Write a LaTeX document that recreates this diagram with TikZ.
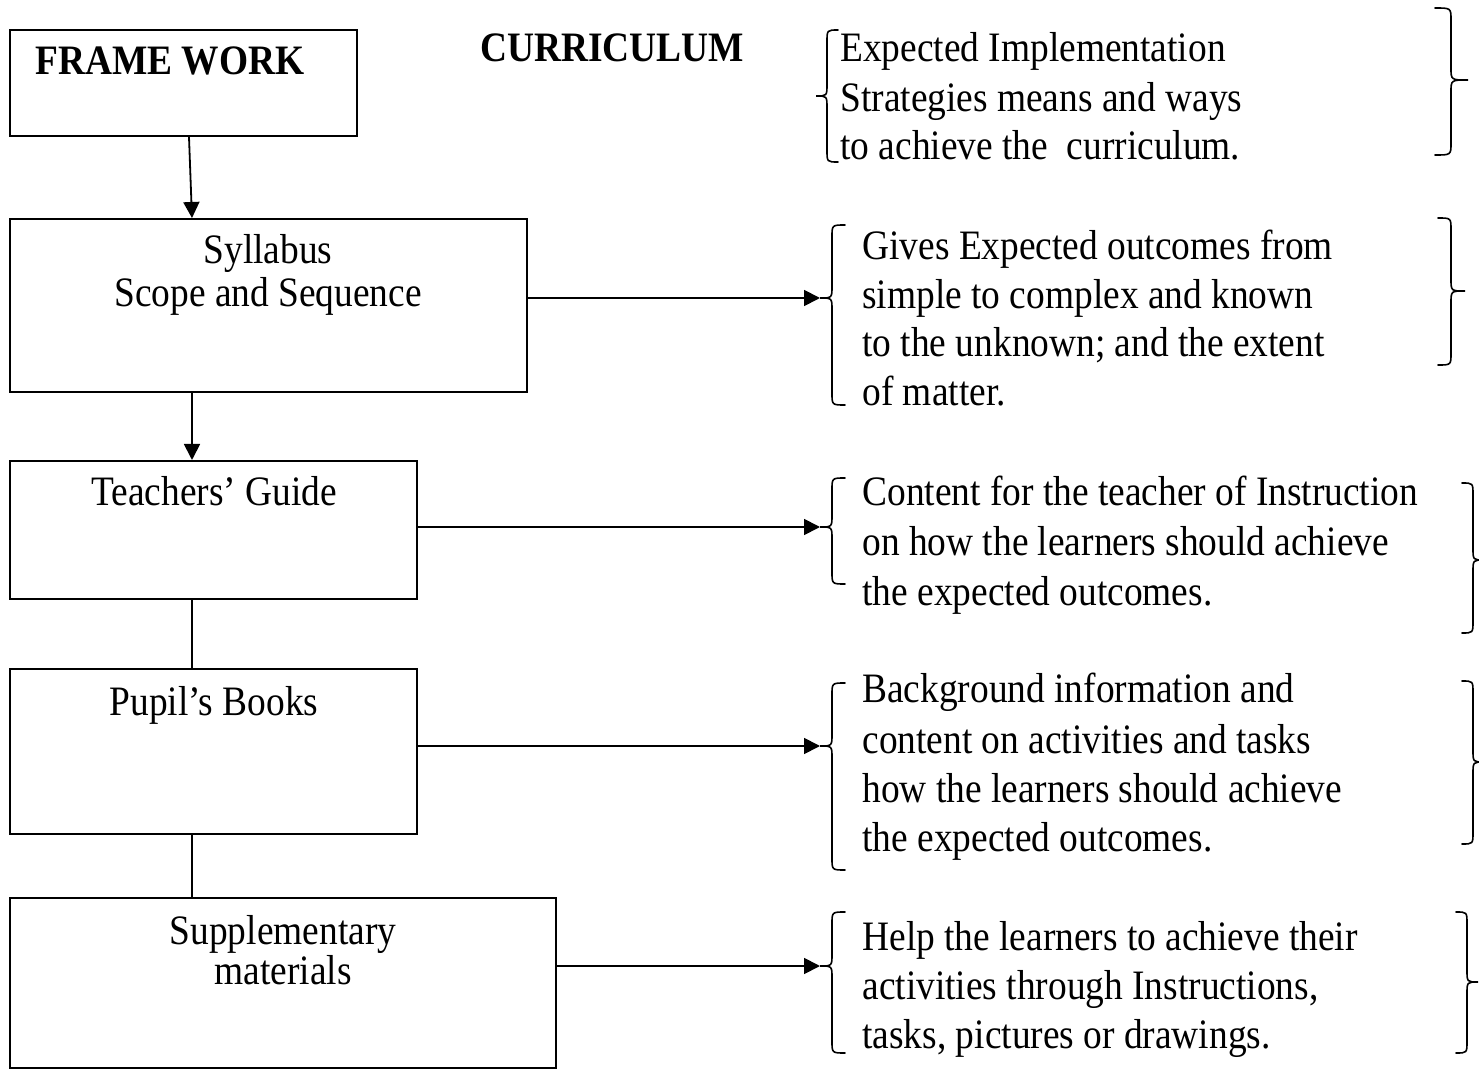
\documentclass[tikz,border=0pt]{standalone}
\usepackage{fontspec}
\setmainfont{Liberation Serif}
\usetikzlibrary{arrows.meta,fit,calc}
\newcommand\LBrc[6]{% tip x, vertical x, curl x, top y, tip y, bottom y
  \draw[brc] (#3,#4) .. controls (#2,#4) .. (#2,#4+12) -- (#2,#5-12) .. controls (#2,#5) .. (#1,#5)
    .. controls (#2,#5) .. (#2,#5+12) -- (#2,#6-12) .. controls (#2,#6) .. (#3,#6);}
\newcommand\Tx[1]{\scalebox{1}[1.12]{#1}}
\begin{document}
\begin{tikzpicture}[x=0.5pt,y=-0.5pt,
  box/.style={draw, line width=1pt, inner sep=0pt},
  txt/.style={inner sep=0pt, font=\fontsize{18.7}{24.5}\selectfont},
  btxt/.style={txt, font=\fontsize{18.7}{24.5}\selectfont\bfseries},
  arr/.style={line width=0.9pt, -{Triangle[length=8pt,width=8pt]}},
  ln/.style={line width=0.9pt},
  brc/.style={line width=0.8pt, line cap=round}]
\useasboundingbox (0,0) rectangle (1479,1069);

% boxes
\node[box, fit={(10,30) (357,136)}] (fw) {};
\node[box, fit={(10,219) (527,392)}] (syl) {};
\node[box, fit={(10,461) (417,599)}] (tg) {};
\node[box, fit={(10,669) (417,834)}] (pb) {};
\node[box, fit={(10,898) (556,1068)}] (sm) {};

% box texts
\node[btxt, anchor=base west] (fwt) at (35,75) {\Tx{FRAME WORK}};
\node[btxt, anchor=base west] (cur) at (480,62) {\Tx{CURRICULUM}};
\node[txt, anchor=base] (syl1) at (268,264) {\Tx{Syllabus}};
\node[txt, anchor=base] (syl2) at (268,307) {\Tx{Scope and Sequence}};
\node[txt, anchor=base] (tgt) at (214,506) {\Tx{Teachers’ Guide}};
\node[txt, anchor=base] (pbt) at (214,715) {\Tx{Pupil’s Books}};
\node[txt, anchor=base] (sm1) at (283,944) {\Tx{Supplementary}};
\node[txt, anchor=base] (sm2) at (283,984) {\Tx{materials}};

% vertical connectors
\draw[arr] ($(fw.south west)+(180,0)$) -- ($(syl.north west)+(183,0)$);
\draw[arr] ($(syl.south west)+(183,0)$) -- ($(tg.north west)+(183,0)$);
\draw[ln] ($(tg.south west)+(183,0)$) -- ($(pb.north west)+(183,0)$);
\draw[ln] ($(pb.south west)+(183,0)$) -- ($(sm.north west)+(183,0)$);

% brace tips
\coordinate (b2) at (820,298);
\coordinate (b3) at (820,527);
\coordinate (b4) at (820,746);
\coordinate (b5) at (820,966);

\draw[arr] (syl.east |- b2) -- (b2);
\draw[arr] (tg.east |- b3) -- (b3);
\draw[arr] (pb.east |- b4) -- (b4);
\draw[arr] (sm.east |- b5) -- (b5);

% left braces
\LBrc{816}{827}{838}{30}{96}{162}
\LBrc{820}{832}{845}{225}{298}{405}
\LBrc{820}{832}{845}{478}{527}{584}
\LBrc{820}{832}{845}{683}{746}{870}
\LBrc{820}{832}{845}{912}{966}{1053}

% right braces
\LBrc{1468}{1451}{1435}{8}{80}{155}
\LBrc{1465}{1451}{1438}{218}{291}{365}
\LBrc{1484}{1473}{1462}{483}{560}{633}
\LBrc{1484}{1473}{1462}{681}{762}{844}
\LBrc{1478}{1467}{1456}{912}{982}{1053}

% descriptions
\node[txt, anchor=base west] (d1a) at (840,62) {\Tx{Expected Implementation}};
\node[txt, anchor=base west] (d1b) at (840,112) {\Tx{Strategies means and ways}};
\node[txt, anchor=base west] (d1c) at (840,160) {\Tx{to achieve the \ curriculum.}};

\node[txt, anchor=base west] (d2a) at (862,260) {\Tx{Gives Expected outcomes from}};
\node[txt, anchor=base west] (d2b) at (862,309) {\Tx{simple to complex and known}};
\node[txt, anchor=base west] (d2c) at (862,357) {\Tx{to the unknown; and the extent}};
\node[txt, anchor=base west] (d2d) at (862,406) {\Tx{of matter.}};

\node[txt, anchor=base west] (d3a) at (862,506) {\Tx{Content for the teacher of Instruction}};
\node[txt, anchor=base west] (d3b) at (862,556) {\Tx{on how the learners should achieve}};
\node[txt, anchor=base west] (d3c) at (862,605) {\Tx{the expected outcomes.}};

\node[txt, anchor=base west] (d4a) at (862,703) {\Tx{Background information and}};
\node[txt, anchor=base west] (d4b) at (862,753) {\Tx{content on activities and tasks}};
\node[txt, anchor=base west] (d4c) at (862,802) {\Tx{how the learners should achieve}};
\node[txt, anchor=base west] (d4d) at (862,851) {\Tx{the expected outcomes.}};

\node[txt, anchor=base west] (d5a) at (862,950) {\Tx{Help the learners to achieve their}};
\node[txt, anchor=base west] (d5b) at (862,999) {\Tx{activities through Instructions,}};
\node[txt, anchor=base west] (d5c) at (862,1048) {\Tx{tasks, pictures or drawings.}};
\end{tikzpicture}
\end{document}
